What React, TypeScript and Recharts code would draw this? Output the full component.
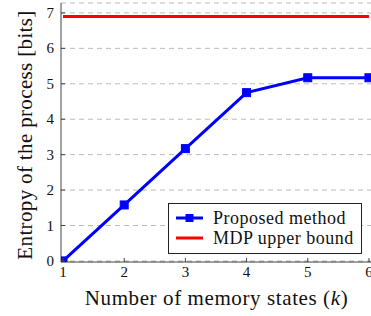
import { CartesianGrid, Line, LineChart, XAxis, YAxis } from 'recharts'

const memoryStates = [1, 2, 3, 4, 5, 6]
const proposedEntropy = [0, 1.58, 3.17, 4.75, 5.17, 5.17]
const mdpUpperBound = [6.9, 6.9, 6.9, 6.9, 6.9, 6.9]
const xTicks = [1, 2, 3, 4, 5, 6]
const yTicks = [0, 1, 2, 3, 4, 5, 6, 7]

const FONT = 'Liberation Serif, serif'
const AXIS = '#444'

const data = memoryStates.map((k, i) => ({
  k,
  proposed: proposedEntropy[i],
  mdp: mdpUpperBound[i],
}))

function BottomTick({ x, y, payload }: any) {
  return (
    <g>
      <line x1={x} x2={x} y1={y} y2={y - 4} stroke={AXIS} />
      <text x={x} y={y + 15} textAnchor="middle" fontSize={15} fontFamily={FONT} fill="#111">
        {payload.value}
      </text>
    </g>
  )
}

function TopTick({ x, y }: any) {
  return <line x1={x} x2={x} y1={y} y2={y + 4} stroke={AXIS} />
}

function LeftTick({ x, y, payload }: any) {
  return (
    <g>
      <line x1={x} x2={x + 4} y1={y} y2={y} stroke={AXIS} />
      <text x={x - 7} y={y + 5} textAnchor="end" fontSize={15} fontFamily={FONT} fill="#111">
        {payload.value}
      </text>
    </g>
  )
}

function XLabel({ viewBox }: any) {
  const cx = viewBox.x + viewBox.width / 2
  return (
    <text
      x={cx}
      y={305}
      textAnchor="middle"
      fontSize={21}
      letterSpacing={0.6}
      fontFamily={FONT}
      fill="#111"
    >
      Number of memory states (<tspan fontStyle="italic">k</tspan>)
    </text>
  )
}

function YLabel() {
  return (
    <text
      x={32}
      y={135}
      transform="rotate(-90 32 135)"
      textAnchor="middle"
      fontSize={21}
      letterSpacing={0.35}
      fontFamily={FONT}
      fill="#111"
    >
      Entropy of the process [bits]
    </text>
  )
}

function SquareDot({ cx, cy }: any) {
  return <rect x={cx - 4} y={cy - 4} width={8} height={8} fill="#0000ff" stroke="#0000ff" />
}

export default function App() {
  return (
    <div
      style={{
        position: 'fixed',
        left: 0,
        top: 0,
        width: 371,
        height: 316,
        overflow: 'hidden',
        background: '#fff',
      }}
    >
      <LineChart width={380} height={316} data={data} margin={{ top: 3, right: 8, bottom: 0, left: 0 }}>
        <CartesianGrid vertical={false} stroke="#bbb" strokeDasharray="5 4" />
        <XAxis
          dataKey="k"
          type="number"
          domain={[0.967, 6.05]}
          ticks={xTicks}
          allowDataOverflow
          height={54}
          stroke={AXIS}
          tickSize={0}
          tickMargin={0}
          tickLine={false}
          tick={<BottomTick />}
          label={<XLabel />}
        />
        <XAxis
          xAxisId="top"
          dataKey="k"
          type="number"
          orientation="top"
          domain={[0.967, 6.05]}
          ticks={xTicks}
          allowDataOverflow
          height={0}
          stroke={AXIS}
          tickSize={0}
          tickMargin={0}
          tickLine={false}
          tick={<TopTick />}
        />
        <YAxis
          type="number"
          domain={[-0.03, 7.28]}
          ticks={yTicks}
          allowDataOverflow
          width={61}
          stroke={AXIS}
          tickSize={0}
          tickMargin={0}
          tickLine={false}
          tick={<LeftTick />}
          label={<YLabel />}
        />
        <YAxis yAxisId="right" orientation="right" width={0} stroke={AXIS} tick={false} domain={[0, 1]} />
        <Line
          dataKey="mdp"
          stroke="#ff0000"
          strokeWidth={3}
          dot={false}
          isAnimationActive={false}
        />
        <Line
          dataKey="proposed"
          stroke="#0000ff"
          strokeWidth={3}
          dot={<SquareDot />}
          isAnimationActive={false}
        />
      </LineChart>
      <div
        style={{
          position: 'absolute',
          left: 168,
          top: 203,
          width: 194,
          height: 51,
          border: '1px solid #222',
          background: '#fff',
          fontFamily: FONT,
          fontSize: 18,
          letterSpacing: 0.5,
          color: '#111',
          boxSizing: 'border-box',
          padding: '4px 0 0 7px',
          lineHeight: '20px',
        }}
      >
        <div style={{ display: 'flex', alignItems: 'center' }}>
          <svg width={27} height={12} style={{ marginRight: 10 }}>
            <line x1={0} x2={27} y1={6} y2={6} stroke="#0000ff" strokeWidth={3} />
            <rect x={9.5} y={2} width={8} height={8} fill="#0000ff" />
          </svg>
          Proposed method
        </div>
        <div style={{ display: 'flex', alignItems: 'center' }}>
          <svg width={27} height={12} style={{ marginRight: 10 }}>
            <line x1={0} x2={27} y1={6} y2={6} stroke="#ff0000" strokeWidth={3} />
          </svg>
          MDP upper bound
        </div>
      </div>
    </div>
  )
}
